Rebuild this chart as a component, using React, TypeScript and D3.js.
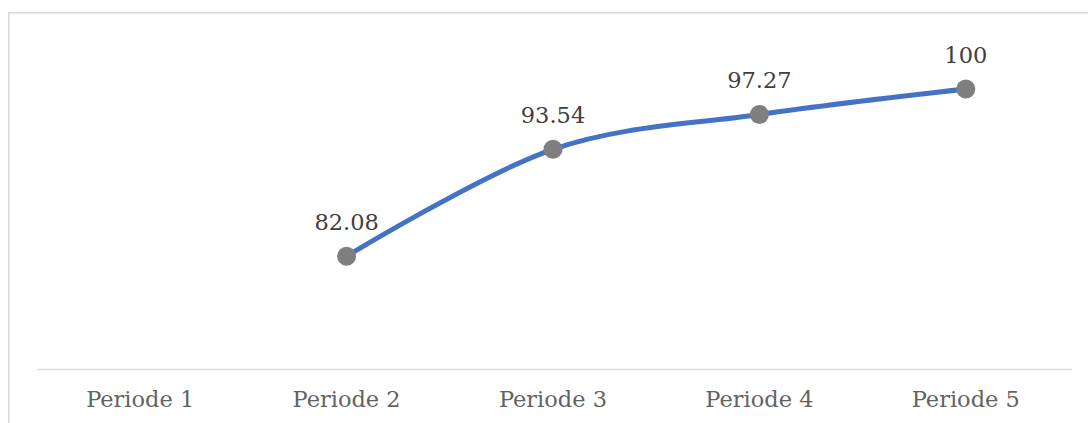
import React from "react";
import * as d3 from "d3";

const categories = ["Periode 1", "Periode 2", "Periode 3", "Periode 4", "Periode 5"];
const values: (number | null)[] = [null, 82.08, 93.54, 97.27, 100];
const valueLabels = ["", "82.08", "93.54", "97.27", "100"];

export default function App() {
  const W = 1088;
  const H = 423;
  const x = d3.scaleBand<string>().domain(categories).range([37, 1069]);
  const y = d3.scaleLinear().domain([70, 105]).range([369, 42.3]);
  const pts = categories
    .map((c, i) => ({ c, v: values[i], label: valueLabels[i] }))
    .filter((d) => d.v !== null) as { c: string; v: number; label: string }[];
  const line = d3
    .line<{ c: string; v: number }>()
    .x((d) => (x(d.c) as number) + x.bandwidth() / 2)
    .y((d) => y(d.v))
    .curve(d3.curveCatmullRom.alpha(0));
  const font = "'DejaVu Serif', serif";
  return (
    <svg
      width={W}
      height={H}
      style={{ position: "absolute", left: 0, top: 0, background: "#fff" }}
    >
      <rect x={8.75} y={12.75} width={1200} height={500} fill="#fff" stroke="#D9D9D9" strokeWidth={1.5} />
      <line x1={37} x2={1072} y1={369.5} y2={369.5} stroke="#D9D9D9" strokeWidth={1.5} />
      {categories.map((c) => (
        <text
          key={c}
          x={(x(c) as number) + x.bandwidth() / 2}
          y={407}
          textAnchor="middle"
          fontFamily={font}
          fontSize={22.5}
          fill="#636363"
        >
          {c}
        </text>
      ))}
      <path d={line(pts) || ""} fill="none" stroke="#4472C4" strokeWidth={5} strokeLinecap="round" />
      {pts.map((d) => (
        <circle
          key={d.c}
          cx={(x(d.c) as number) + x.bandwidth() / 2}
          cy={y(d.v)}
          r={9.5}
          fill="#7F7F7F"
        />
      ))}
      {pts.map((d) => (
        <text
          key={"l" + d.c}
          x={(x(d.c) as number) + x.bandwidth() / 2}
          y={y(d.v) - 26}
          textAnchor="middle"
          fontFamily={font}
          fontSize={22.5}
          fill="#404040"
        >
          {d.label}
        </text>
      ))}
    </svg>
  );
}
